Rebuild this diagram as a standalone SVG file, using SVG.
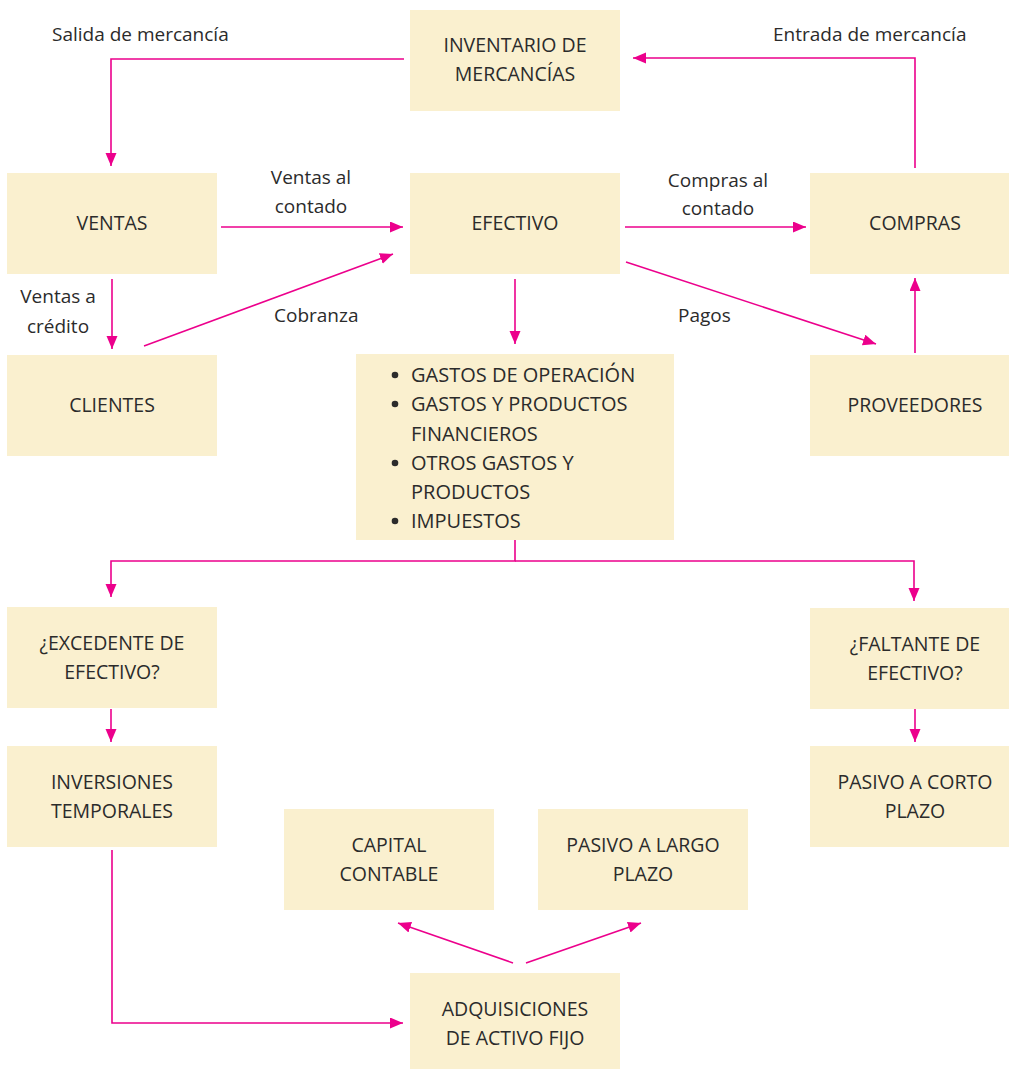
<svg xmlns="http://www.w3.org/2000/svg" width="1009" height="1069" viewBox="0 0 1009 1069">
<style>
.box{fill:#FAF0CF}
.t{font-family:"Open Sans","Noto Sans",sans-serif;font-size:19.5px;fill:#2b2b2b;text-anchor:middle}
.tl{font-family:"Open Sans","Noto Sans",sans-serif;font-size:19px;fill:#2b2b2b;text-anchor:middle}
.l{font-family:"Open Sans","Noto Sans",sans-serif;font-size:19px;fill:#2b2b2b}
.b{font-family:"Open Sans","Noto Sans",sans-serif;font-size:20px;fill:#2b2b2b}
.c{fill:none;stroke:#EC008C;stroke-width:1.6}
</style>
<defs>
<marker id="ah" markerUnits="userSpaceOnUse" markerWidth="14" markerHeight="12" refX="13" refY="5.5" orient="auto">
<path d="M0,0 L13,5.5 L0,11 z" fill="#EC008C"/>
</marker>
</defs>
<rect width="1009" height="1069" fill="#ffffff"/>
<g id="connectors">
<polyline class="c" points="404,59 111,59 111,166" marker-end="url(#ah)"/>
<polyline class="c" points="915,168 915,58 633,58" marker-end="url(#ah)"/>
<line class="c" x1="221" y1="227" x2="403" y2="227" marker-end="url(#ah)"/>
<line class="c" x1="625" y1="227" x2="806" y2="227" marker-end="url(#ah)"/>
<line class="c" x1="112" y1="279" x2="112" y2="349" marker-end="url(#ah)"/>
<line class="c" x1="144" y1="346" x2="393" y2="254" marker-end="url(#ah)"/>
<line class="c" x1="515" y1="279" x2="515" y2="344" marker-end="url(#ah)"/>
<line class="c" x1="626" y1="262" x2="876" y2="344" marker-end="url(#ah)"/>
<line class="c" x1="915" y1="353" x2="915" y2="278" marker-end="url(#ah)"/>
<polyline class="c" points="515,540 515,561 111,561 111,597" marker-end="url(#ah)"/>
<polyline class="c" points="515,561 914,561 914,601" marker-end="url(#ah)"/>
<line class="c" x1="111" y1="709" x2="111" y2="742" marker-end="url(#ah)"/>
<line class="c" x1="915" y1="709" x2="915" y2="742" marker-end="url(#ah)"/>
<polyline class="c" points="112,850 112,1023 403,1023" marker-end="url(#ah)"/>
<line class="c" x1="513" y1="963" x2="398" y2="923" marker-end="url(#ah)"/>
<line class="c" x1="526" y1="963" x2="641" y2="923" marker-end="url(#ah)"/>
<text class="l" x="52" y="41">Salida de mercancía</text>
<text class="l" x="773" y="41">Entrada de mercancía</text>
<text class="tl" x="311" y="184">Ventas al</text>
<text class="tl" x="311" y="213">contado</text>
<text class="tl" x="718" y="187">Compras al</text>
<text class="tl" x="718" y="215">contado</text>
<text class="tl" x="58" y="303">Ventas a</text>
<text class="tl" x="58" y="333">crédito</text>
<text class="l" x="274" y="322">Cobranza</text>
<text class="l" x="678" y="322">Pagos</text>
</g>
<g id="inventario"><rect class="box" x="410" y="10" width="210" height="101"/><text class="t" x="515" y="52">INVENTARIO DE</text><text class="t" x="515" y="81">MERCANCÍAS</text></g>
<g id="ventas"><rect class="box" x="7" y="173" width="210" height="101"/><text class="t" x="112" y="230">VENTAS</text></g>
<g id="efectivo"><rect class="box" x="410" y="173" width="210" height="101"/><text class="t" x="515" y="230">EFECTIVO</text></g>
<g id="compras"><rect class="box" x="810" y="173" width="210" height="101"/><text class="t" x="915" y="230">COMPRAS</text></g>
<g id="clientes"><rect class="box" x="7" y="355" width="210" height="101"/><text class="t" x="112" y="412">CLIENTES</text></g>
<g id="gastos"><rect class="box" x="356" y="354" width="318" height="186"/>
<circle cx="395" cy="375" r="3.3" fill="#2b2b2b"/><text class="b" x="411" y="382">GASTOS DE OPERACIÓN</text>
<circle cx="395" cy="404" r="3.3" fill="#2b2b2b"/><text class="b" x="411" y="411">GASTOS Y PRODUCTOS</text>
<text class="b" x="411" y="441">FINANCIEROS</text>
<circle cx="395" cy="463" r="3.3" fill="#2b2b2b"/><text class="b" x="411" y="470">OTROS GASTOS Y</text>
<text class="b" x="411" y="499">PRODUCTOS</text>
<circle cx="395" cy="521" r="3.3" fill="#2b2b2b"/><text class="b" x="411" y="528">IMPUESTOS</text>
</g>
<g id="proveedores"><rect class="box" x="810" y="355" width="210" height="101"/><text class="t" x="915" y="412">PROVEEDORES</text></g>
<g id="excedente"><rect class="box" x="7" y="607" width="210" height="101"/><text class="t" x="112" y="650">¿EXCEDENTE DE</text><text class="t" x="112" y="679">EFECTIVO?</text></g>
<g id="faltante"><rect class="box" x="810" y="608" width="210" height="101"/><text class="t" x="915" y="651">¿FALTANTE DE</text><text class="t" x="915" y="680">EFECTIVO?</text></g>
<g id="inversiones"><rect class="box" x="7" y="746" width="210" height="101"/><text class="t" x="112" y="789">INVERSIONES</text><text class="t" x="112" y="818">TEMPORALES</text></g>
<g id="pasivo-corto"><rect class="box" x="810" y="746" width="210" height="101"/><text class="t" x="915" y="789">PASIVO A CORTO</text><text class="t" x="915" y="818">PLAZO</text></g>
<g id="capital"><rect class="box" x="284" y="809" width="210" height="101"/><text class="t" x="389" y="852">CAPITAL</text><text class="t" x="389" y="881">CONTABLE</text></g>
<g id="pasivo-largo"><rect class="box" x="538" y="809" width="210" height="101"/><text class="t" x="643" y="852">PASIVO A LARGO</text><text class="t" x="643" y="881">PLAZO</text></g>
<g id="adquisiciones"><rect class="box" x="410" y="973" width="210" height="96"/><text class="t" x="515" y="1016">ADQUISICIONES</text><text class="t" x="515" y="1045">DE ACTIVO FIJO</text></g>
</svg>
